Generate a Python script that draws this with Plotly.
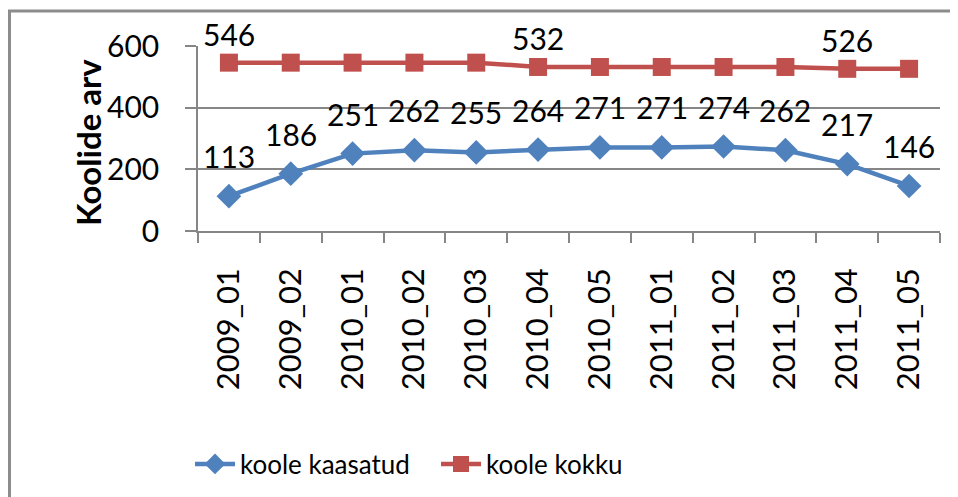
import plotly.graph_objects as go

# --- andmed ---
perioodid = ["2009_01", "2009_02", "2010_01", "2010_02", "2010_03", "2010_04",
             "2010_05", "2011_01", "2011_02", "2011_03", "2011_04", "2011_05"]
kaasatud = [113, 186, 251, 262, 255, 264, 271, 271, 274, 262, 217, 146]
kokku = [546, 546, 546, 546, 546, 532, 532, 532, 532, 532, 526, 526]
kokku_sildid = ["546", "", "", "", "", "532", "", "", "", "", "526", ""]

FONT = "Lato, Carlito, Calibri, sans-serif"
W, H = 958, 497
OFF = 8  # lehe body marginaal
# joonisala piirid lehe koordinaatides
X0, X1, Y0, Y1 = 198, 940, 46, 231
L, R = X0 - OFF, W - (X1 - OFF)
T, B = Y0 - OFF, H - (Y1 - OFF)
pw = X1 - X0
ph = Y1 - Y0


def px(x):
    return (x - X0) / pw


def py(y):
    return (Y1 - y) / ph


fig = go.Figure()

fig.add_trace(go.Scatter(
    x=perioodid, y=kaasatud,
    mode="lines+markers",
    name="koole kaasatud",
    line=dict(color="#4F81BD", width=4.5),
    marker=dict(symbol="diamond", size=19, color="#4F81BD"),
    cliponaxis=False,
))

fig.add_trace(go.Scatter(
    x=perioodid, y=kokku,
    mode="lines+markers",
    name="koole kokku",
    line=dict(color="#C0504D", width=4.5),
    marker=dict(symbol="square", size=18, color="#C0504D"),
    cliponaxis=False,
))

# andmesildid
for p, v in zip(perioodid, kaasatud):
    fig.add_annotation(x=p, y=v, text=str(v), showarrow=False,
                       yanchor="bottom", yshift=20,
                       font=dict(size=30, color="black", family=FONT))
for p, v, s in zip(perioodid, kokku, kokku_sildid):
    if s:
        fig.add_annotation(x=p, y=v, text=s, showarrow=False,
                           yanchor="bottom", yshift=9,
                           font=dict(size=30, color="black", family=FONT))

# välimine raam nagu Exceli diagrammil
fig.add_shape(
    type="rect", xref="paper", yref="paper",
    x0=px(9.5), x1=px(W + 20),
    y0=py(11), y1=py(H + 20),
    line=dict(color="#8C8C8C", width=3),
    fillcolor="rgba(0,0,0,0)",
)

fig.add_annotation(
    text="<b>Koolide arv</b>", textangle=-90,
    xref="paper", yref="paper",
    x=px(66), y=py(143),
    showarrow=False,
    font=dict(size=33, color="black", family=FONT),
)

fig.update_layout(
    width=W, height=H,
    margin=dict(l=L, r=R, t=T, b=B, autoexpand=False),
    plot_bgcolor="white",
    paper_bgcolor="white",
    font=dict(family=FONT, size=28, color="black"),
    showlegend=True,
    legend=dict(
        orientation="h",
        x=px(190), y=py(464),
        xanchor="left", yanchor="middle",
        font=dict(size=26, family=FONT),
        itemwidth=40,
        entrywidth=191, entrywidthmode="pixels",
    ),
)

fig.update_xaxes(
    type="category",
    range=[-0.5, 11.5],
    tickangle=-90,
    tickson="boundaries",
    ticks="outside", ticklen=10, tickwidth=1.5, tickcolor="#868686",
    showline=True, linecolor="#868686", linewidth=1.5,
    showgrid=False,
    automargin=False,
    ticklabelstandoff=23,
    tickfont=dict(size=31, family=FONT),
)

fig.update_yaxes(
    range=[0, 600],
    tickvals=[0, 200, 400, 600],
    ticks="outside", ticklen=11, tickwidth=1.5, tickcolor="#868686",
    showline=True, linecolor="#868686", linewidth=1.5,
    showgrid=True, gridcolor="#868686", gridwidth=1.5,
    zeroline=False,
    automargin=False,
    ticklabelstandoff=20,
    tickfont=dict(size=30, family=FONT),
)

fig.write_html("out.html")
